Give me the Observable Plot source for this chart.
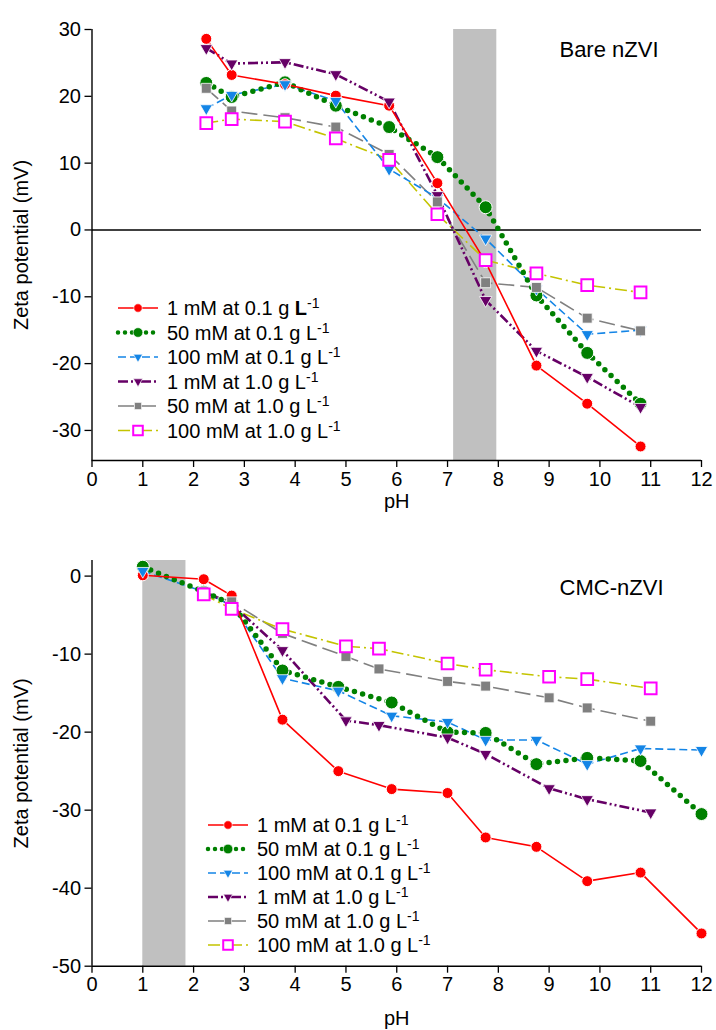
<!DOCTYPE html>
<html><head><meta charset="utf-8">
<script src="https://cdn.jsdelivr.net/npm/d3@7"></script>
<script src="https://cdn.jsdelivr.net/npm/@observablehq/plot@0.6"></script>
<style>
body{margin:0;background:#fff;}
#chart{width:716px;}
#chart svg{display:block;}
</style></head><body><div id="chart"></div>
<script>
const FONT = "'Liberation Sans', Arial, Helvetica, sans-serif";

// ---- Series labels ----
const seriesNames = ["1 mM at 0.1 g L", "50 mM at 0.1 g L", "100 mM at 0.1 g L",
                     "1 mM at 1.0 g L", "50 mM at 1.0 g L", "100 mM at 1.0 g L"];

// ---- Tick labels ----
const xTicks = [0,1,2,3,4,5,6,7,8,9,10,11,12];
const yTicksTop = [30,20,10,0,-10,-20,-30];
const yTicksBottom = [0,-10,-20,-30,-40,-50];

// ---- Top panel: Bare nZVI ----
const barePH        = [2.25, 2.75, 3.8, 4.8, 5.85, 6.8, 7.75, 8.75, 9.75, 10.8];
const bare1mM01     = [28.6, 23.2, 21.8, 20.1, 18.6, 7.0, -4.8, -20.3, -26.0, -32.4];
const bare50mM01    = [22.0, 19.9, 22.1, 18.6, 15.4, 10.9, 3.4, -9.8, -18.4, -26.0];
const bare100mM01   = [18.2, 20.2, 21.8, 19.3, 9.1, 4.8, -1.3, -8.8, -15.6, -15.0];
const bare1mM10     = [27.2, 24.9, 25.1, 23.3, 19.2, 5.2, -10.5, -18.1, -22.0, -26.5];
const bare50mM10    = [21.2, 17.8, 16.8, 15.4, 11.3, 4.2, -7.9, -8.6, -13.2, -15.1];
const bare100mM10   = [16.0, 16.6, 16.2, 13.7, 10.5, 2.35, -4.5, -6.5, -8.25, -9.35];
const bareBand = [7.12, 7.97];

// ---- Bottom panel: CMC-nZVI ----
const cmcPH01       = [1.0, 2.2, 2.75, 3.75, 4.85, 5.9, 7.0, 7.75, 8.75, 9.75, 10.8, 12.0];
const cmc1mM01      = [0.1, -0.4, -2.5, -18.4, -25.0, -27.3, -27.8, -33.5, -34.7, -39.1, -38.0, -45.8];
const cmc50mM01     = [1.2, -2.0, -3.6, -12.1, -14.2, -16.2, -20.0, -20.1, -24.1, -23.3, -23.7, -30.5];
const cmc100mM01    = [0.65, -2.0, -3.8, -13.1, -14.7, -17.9, -18.7, -21.0, -21.0, -24.1, -22.1, -22.3];
const cmcPH10       = [2.2, 2.75, 3.75, 5.0, 5.65, 7.0, 7.75, 9.0, 9.75, 11.0];
const cmc1mM10      = [-2.0, -3.6, -9.5, -18.5, -19.1, -20.7, -22.8, -27.2, -28.6, -30.3];
const cmc50mM10     = [-2.0, -3.3, -7.35, -10.3, -11.9, -13.5, -14.1, -15.6, -16.9, -18.6];
const cmc100mM10    = [-2.35, -4.2, -6.8, -9.0, -9.3, -11.2, -12.0, -12.9, -13.2, -14.4];
const cmcBand = [1.0, 1.85];

// ---- Styles ----
const styles = [
  {color:"#ff0000", width:1.6, dash:null, cap:"butt", symbol:"circle", fill:"#ff0000", stroke:"white", sw:1, r:5.5, rot:0, lr:4.2},
  {color:"#008000", width:5.5, dash:"0 8.5", cap:"round", symbol:"circle", fill:"#008000", stroke:"white", sw:1, r:6.5, rot:0, lr:4.8},
  {color:"#1485e6", width:1.6, dash:"8 4", cap:"butt", symbol:"triangle", fill:"#1485e6", stroke:"white", sw:0.8, r:4.6, rot:180, lr:3.4},
  {color:"#660066", width:2.6, dash:"10 3 2 3 2 3", cap:"butt", symbol:"triangle", fill:"#660066", stroke:"white", sw:0.8, r:4.6, rot:180, lr:3.4},
  {color:"#808080", width:1.6, dash:"16 6", cap:"butt", symbol:"square", fill:"#808080", stroke:"white", sw:0.8, r:5.6, rot:0, lr:4.0},
  {color:"#c4c400", width:1.6, dash:"12 4 2 4", cap:"butt", symbol:"square", fill:"white", stroke:"#ff00ff", sw:2, r:6.6, rot:0, lr:5.4}
];

function rows(phs, vals, k) { return vals.map((v, i) => ({pH: phs[i], zeta: v, k})); }

const bareRows = [
  rows(barePH, bare1mM01, 0), rows(barePH, bare50mM01, 1), rows(barePH, bare100mM01, 2),
  rows(barePH, bare1mM10, 3), rows(barePH, bare50mM10, 4), rows(barePH, bare100mM10, 5)
];
const cmcRows = [
  rows(cmcPH01, cmc1mM01, 0), rows(cmcPH01, cmc50mM01, 1), rows(cmcPH01, cmc100mM01, 2),
  rows(cmcPH10, cmc1mM10, 3), rows(cmcPH10, cmc50mM10, 4), rows(cmcPH10, cmc100mM10, 5)
];

const lineOrder = [4, 5, 2, 3, 1, 0];
const dotOrder = [1, 0, 2, 3, 4, 5];

function seriesMarks(data) {
  const marks = [];
  for (const k of lineOrder) {
    const s = styles[k];
    marks.push(Plot.line(data[k], {x:"pH", y:"zeta", stroke:s.color, strokeWidth:s.width,
      strokeDasharray:s.dash, strokeLinecap:s.cap}));
  }
  for (const k of dotOrder) {
    const s = styles[k];
    marks.push(Plot.dot(data[k], {x:"pH", y:"zeta", symbol:s.symbol, r:s.r, fill:s.fill,
      stroke:s.stroke, strokeWidth:s.sw, rotate:s.rot}));
  }
  return marks;
}

function panel({data, yDomain, yTicks, band, title, titleDx, titleDy, height, mTop, mBottom, zeroLine, phDy}) {
  return Plot.plot({
    width: 716, height,
    marginLeft: 91.5, marginRight: 15, marginTop: mTop, marginBottom: mBottom,
    x: {domain: [0, 12]},
    y: {domain: yDomain},
    style: {fontFamily: FONT, fontSize: "20px", color: "#000", background: "white", overflow: "visible"},
    marks: [
      Plot.rect([band], {x1: d => d[0], x2: d => d[1], y1: yDomain[0], y2: yDomain[1], fill: "#c0c0c0"}),
      ...(zeroLine ? [Plot.ruleY([0], {stroke:"#000", strokeWidth:1.4})] : []),
      Plot.ruleX([0], {stroke:"#000", strokeWidth:1.4}),
      Plot.ruleY([yDomain[0]], {stroke:"#000", strokeWidth:1.4}),
      Plot.axisX({ticks: xTicks, tickSize: 7, tickPadding: 4, fontSize: 20, label: null, tickFormat: d => String(d), strokeWidth: 1.3}),
      Plot.axisY({ticks: yTicks, tickSize: 7, tickPadding: 4, fontSize: 20, label: null, tickFormat: d => String(d), strokeWidth: 1.3}),
      ...seriesMarks(data),
      Plot.text([title], {frameAnchor: "top-right", dx: titleDx, dy: titleDy, textAnchor: "end", lineAnchor: "middle", fontSize: 22}),
      Plot.text(["Zeta potential (mV)"], {frameAnchor: "left", dx: -70, rotate: -90, textAnchor: "middle", lineAnchor: "middle", fontSize: 20}),
      Plot.text(["pH"], {frameAnchor: "bottom", dy: phDy, textAnchor: "middle", lineAnchor: "middle", fontSize: 20})
    ]
  });
}

function addLegend(svg, {x0, y0, step, boldFirst}) {
  const g = d3.select(svg).append("g").attr("font-family", FONT).attr("text-anchor", "start");
  seriesNames.forEach((name, i) => {
    const s = styles[i];
    const y = y0 + i * step;
    g.append("line").attr("x1", x0).attr("x2", x0 + 40).attr("y1", y).attr("y2", y)
      .attr("stroke", s.color).attr("stroke-width", i === 1 ? 4.5 : s.width)
      .attr("stroke-dasharray", i === 1 ? "0 7" : s.dash).attr("stroke-linecap", s.cap);
    const type = s.symbol === "circle" ? d3.symbolCircle : s.symbol === "triangle" ? d3.symbolTriangle : d3.symbolSquare;
    g.append("path").attr("d", d3.symbol().type(type).size(Math.PI * s.lr * s.lr)())
      .attr("transform", `translate(${x0 + 20},${y}) rotate(${s.rot})`)
      .attr("fill", s.fill).attr("stroke", s.stroke).attr("stroke-width", s.symbol === "square" && s.fill === "white" ? 2 : 0.6);
    const t = g.append("text").attr("x", x0 + 49).attr("y", y).attr("dy", "0.36em")
      .attr("font-size", 20).attr("text-anchor", "start");
    if (boldFirst && i === 0) {
      t.append("tspan").text(name.slice(0, -1));
      t.append("tspan").attr("font-weight", "bold").text("L");
    } else {
      t.append("tspan").text(name);
    }
    t.append("tspan").attr("dy", "-0.5em").attr("font-size", 14).text("-1");
  });
}

const topChart = panel({data: bareRows, yDomain: [-34.5, 30], yTicks: yTicksTop, band: bareBand,
  title: "Bare nZVI", titleDx: -43, titleDy: 20, height: 515, mTop: 29, mBottom: 55, zeroLine: true, phDy: 41});
addLegend(topChart, {x0: 118, y0: 308, step: 24.5, boldFirst: true});

const bottomChart = panel({data: cmcRows, yDomain: [-50, 2], yTicks: yTicksBottom, band: cmcBand,
  title: "CMC-nZVI", titleDx: -38, titleDy: 27, height: 515, mTop: 45, mBottom: 64.3, zeroLine: false, phDy: 52});
addLegend(bottomChart, {x0: 208, y0: 310, step: 24, boldFirst: false});

document.getElementById("chart").append(topChart, bottomChart);
</script>
</body></html>
